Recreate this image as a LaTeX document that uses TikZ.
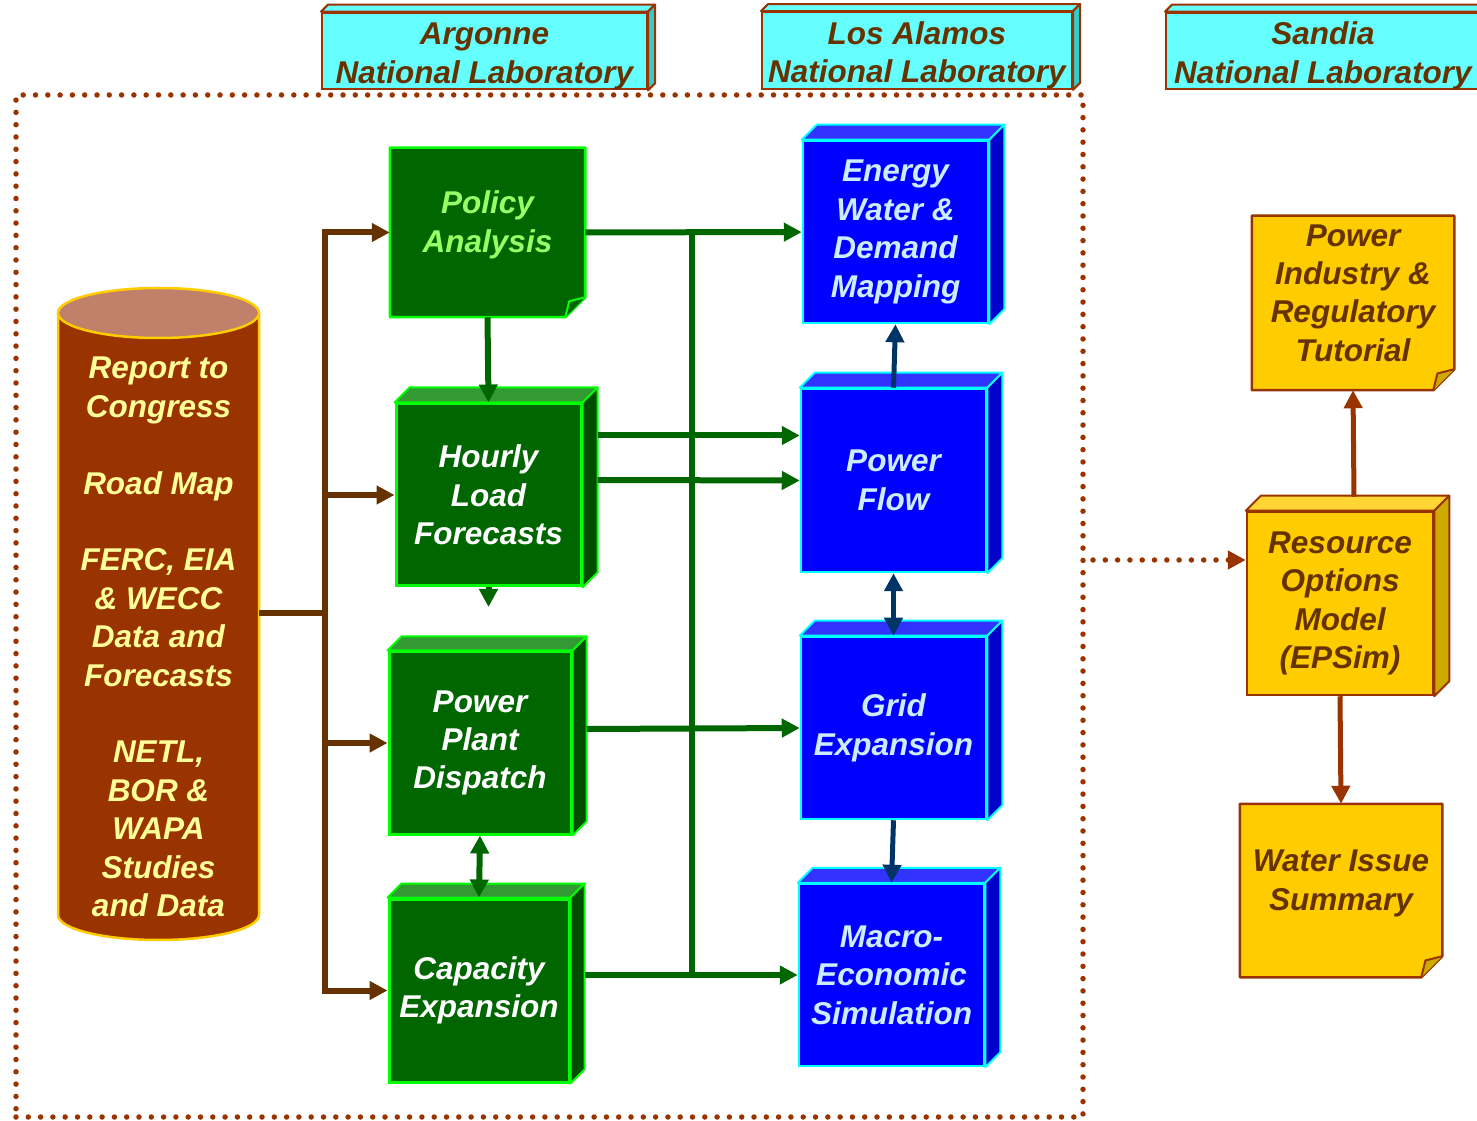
\documentclass[tikz,border=0pt]{standalone}
\usepackage{fontspec}
\setmainfont{Liberation Sans}
\usetikzlibrary{arrows.meta,backgrounds}

\definecolor{rust}{HTML}{993300}
\definecolor{bark}{HTML}{663300}
\definecolor{clay}{HTML}{C0806A}
\definecolor{gold}{HTML}{FFCC00}
\definecolor{goldtop}{HTML}{FFD633}
\definecolor{goldside}{HTML}{CCAA00}
\definecolor{cream}{HTML}{FFFF99}
\definecolor{leaf}{HTML}{006600}
\definecolor{leaftop}{HTML}{339933}
\definecolor{leafside}{HTML}{004D00}
\definecolor{lime}{HTML}{00FF00}
\definecolor{mint}{HTML}{99FF66}
\definecolor{royal}{HTML}{0000FF}
\definecolor{royaltop}{HTML}{3333FF}
\definecolor{royalside}{HTML}{0000CC}
\definecolor{cyanline}{HTML}{00FFFF}
\definecolor{sky}{HTML}{CCECFF}
\definecolor{navy}{HTML}{003366}
\definecolor{aqua}{HTML}{66FFFF}
\definecolor{aquaside}{HTML}{33CCCC}

% node, depth, top face, side face, border
\newcommand{\solidbox}[5]{%
  \filldraw[fill=#3, draw=#5, line width=2pt, line join=round] (#1.north west) -- ++(#2,#2) -- ([shift={(#2,#2)}]#1.north east) -- (#1.north east) -- cycle;
  \filldraw[fill=#4, draw=#5, line width=2pt, line join=round] (#1.north east) -- ++(#2,#2) -- ([shift={(#2,#2)}]#1.south east) -- (#1.south east) -- cycle;
}
% node, fold, paper, fold colour, border
\newcommand{\notepaper}[5]{%
  \begin{scope}[on background layer]
  \filldraw[fill=#3, draw=#5, line width=2.5pt, line join=round] (#1.north west) -- (#1.north east) -- ([shift={(0,#2)}]#1.south east) -- ([shift={(-#2,0)}]#1.south east) -- (#1.south west) -- cycle;
  \filldraw[fill=#4, draw=#5, line width=2pt, line join=round] ([shift={(0,#2)}]#1.south east) -- ([shift={({-0.8*#2},{0.8*#2})}]#1.south east) -- ([shift={(-#2,0)}]#1.south east);
  \end{scope}
}
% raise, lines
\newcommand{\liftext}[2]{\raisebox{#1}[\height][\depth]{\begin{tabular}{@{}c@{}}#2\end{tabular}}}

\begin{document}
\begin{tikzpicture}[x=1pt,y=1pt,
  every node/.style={font=\fontsize{31.5}{38.4}\selectfont\bfseries\itshape, align=center, inner sep=0pt},
  labbox/.style={fill=aqua, draw=rust, line width=2pt, text=bark},
  teamframe/.style={draw=rust, line width=5.5pt, line cap=round, dash pattern=on 0pt off 12.3pt},
  datacyl/.style={text=cream, minimum width=201pt},
  greenbox/.style={fill=leaf, draw=lime, line width=3pt, text=white},
  greennote/.style={text=mint, line width=2.5pt},
  bluebox/.style={fill=royal, draw=cyanline, line width=2.5pt, text=sky},
  yellowbox/.style={fill=gold, draw=rust, line width=2.5pt, text=bark},
  yellownote/.style={text=bark, line width=2.5pt},
  tip/.style={-{Triangle[length=18pt,width=18pt]}},
  feed/.style={draw=bark, line width=6pt},
  flow/.style={draw=leaf, line width=6pt, tip},
  tie/.style={draw=navy, line width=5pt, tip},
  rustarrow/.style={draw=rust, line width=5pt, tip},
  both/.style={{Triangle[length=18pt,width=18pt]}-{Triangle[length=18pt,width=18pt]}}]
\useasboundingbox (0,0) rectangle (1477,1120);
\clip (0,0) rectangle (1477,1120);

% laboratories
\node[teamframe, minimum width=1067pt, minimum height=1022pt] (team) at (549.5,514) {};
\node[labbox, minimum width=325pt, minimum height=74pt] (argonne) at (484.5,1069) {\liftext{-5.5pt}{Argonne\\National Laboratory}};
\solidbox{argonne}{7}{aqua}{aquaside}{rust}
\node[labbox, minimum width=310pt, minimum height=75pt] (losalamos) at (917,1069.5) {\liftext{-5.5pt}{Los Alamos\\National Laboratory}};
\solidbox{losalamos}{7}{aqua}{aquaside}{rust}
\node[labbox, minimum width=314pt, minimum height=74pt] (sandia) at (1323,1069) {\liftext{-5.5pt}{Sandia\\National Laboratory}};
\solidbox{sandia}{7}{aqua}{aquaside}{rust}

% data sources
\fill[rust] (58,807) rectangle (259,205);
\fill[rust] (158.5,205) ellipse [x radius=100.5, y radius=25];
\draw[gold, line width=2.5pt] (58,807) -- (58,205) arc [start angle=180, end angle=360, x radius=100.5, y radius=25] -- (259,807);
\filldraw[fill=clay, draw=gold, line width=2.5pt] (158.5,807) ellipse [x radius=100.5, y radius=25];
\node[datacyl] (data) at (158.5,483) {Report to\\Congress\\[38.4pt]Road Map\\[38.4pt]FERC, EIA\\\& WECC\\Data and\\Forecasts\\[38.4pt]NETL,\\BOR \&\\WAPA\\Studies\\and Data};

% Argonne models
\node[greennote, minimum width=193pt, minimum height=167pt] (policy) at (487.5,887.5) {\liftext{7pt}{Policy\\Analysis}};
\notepaper{policy}{20}{leaf}{leaf}{lime}
\node[greenbox, minimum width=185pt, minimum height=182pt] (hourly) at (488.5,625) {Hourly\\Load\\Forecasts};
\solidbox{hourly}{15}{leaftop}{leafside}{lime}
\node[greenbox, minimum width=182pt, minimum height=182pt] (dispatch) at (480,377) {Power\\Plant\\Dispatch};
\solidbox{dispatch}{14}{leaftop}{leafside}{lime}
\node[greenbox, minimum width=180pt, minimum height=183pt] (capacity) at (479,129.5) {Capacity\\Expansion};
\solidbox{capacity}{14}{leaftop}{leafside}{lime}

% Los Alamos models
\node[bluebox, minimum width=185pt, minimum height=182pt] (mapping) at (895.5,888) {Energy\\Water \&\\Demand\\Mapping};
\solidbox{mapping}{15}{royaltop}{royalside}{cyanline}
\node[bluebox, minimum width=185pt, minimum height=183pt] (powerflow) at (893.5,639.5) {Power\\Flow};
\solidbox{powerflow}{15}{royaltop}{royalside}{cyanline}
\node[bluebox, minimum width=185pt, minimum height=182pt] (grid) at (893.5,392) {Grid\\Expansion};
\solidbox{grid}{15}{royaltop}{royalside}{cyanline}
\node[bluebox, minimum width=185pt, minimum height=182pt] (macro) at (891.5,145) {Macro-\\Economic\\Simulation};
\solidbox{macro}{15}{royaltop}{royalside}{cyanline}

% Sandia models
\node[yellownote, minimum width=200pt, minimum height=172pt] (tutorial) at (1353,817) {\liftext{7pt}{Power\\Industry \&\\Regulatory\\Tutorial}};
\notepaper{tutorial}{21}{gold}{goldside}{rust}
\node[yellowbox, minimum width=186pt, minimum height=183pt] (rom) at (1340,516.5) {Resource\\Options\\Model\\(EPSim)};
\solidbox{rom}{15}{goldtop}{goldside}{rust}
\node[yellownote, minimum width=200pt, minimum height=171pt] (summary) at (1341,229.5) {\liftext{7pt}{Water Issue\\Summary}};
\notepaper{summary}{21}{gold}{goldside}{rust}

% data feed
\coordinate (trunk) at (325,507);
\draw[feed] (data.east |- trunk) -- (trunk);
\draw[feed, tip] (trunk) |- (policy);
\draw[feed, tip] (trunk) |- (hourly);
\draw[feed, tip] (trunk) |- (dispatch);
\draw[feed, tip] (trunk) |- (capacity);

% model links
\coordinate (mesh) at (692,0);
\coordinate (hourlyout) at (488.5,513);
\draw[draw=leaf, line width=6pt] (mesh |- mapping) -- (mesh |- macro);
\draw[flow] (policy) -- (mapping);
\draw[flow] (policy.south) -- (hourly.north);
\draw[flow] (hourly.south) -- (hourlyout);
\draw[flow] ([xshift=15pt,yshift=59.5pt]hourly.east) -- ([yshift=45pt]powerflow.west);
\draw[flow] ([xshift=15pt,yshift=15pt]hourly.east) -- (powerflow.west);
\draw[flow] ([xshift=14pt,yshift=14pt]dispatch.east) -- (grid.west);
\draw[flow, both] (dispatch.south) -- (capacity.north);
\draw[flow] ([xshift=14pt,yshift=15.5pt]capacity.east) -- (macro.west);
\draw[tie] (powerflow.north) -- (mapping.south);
\draw[tie, both] (powerflow.south) -- (grid.north);
\draw[tie] (grid.south) -- (macro.north);

% Sandia links
\coordinate (sandlink) at (1093,560);
\draw[teamframe, tip] (sandlink) -- (sandlink -| rom.west);
\draw[rustarrow] ([xshift=14pt,yshift=14pt]rom.north) -- (tutorial.south);
\draw[rustarrow] (rom.south) -- (summary.north);
\end{tikzpicture}
\end{document}
